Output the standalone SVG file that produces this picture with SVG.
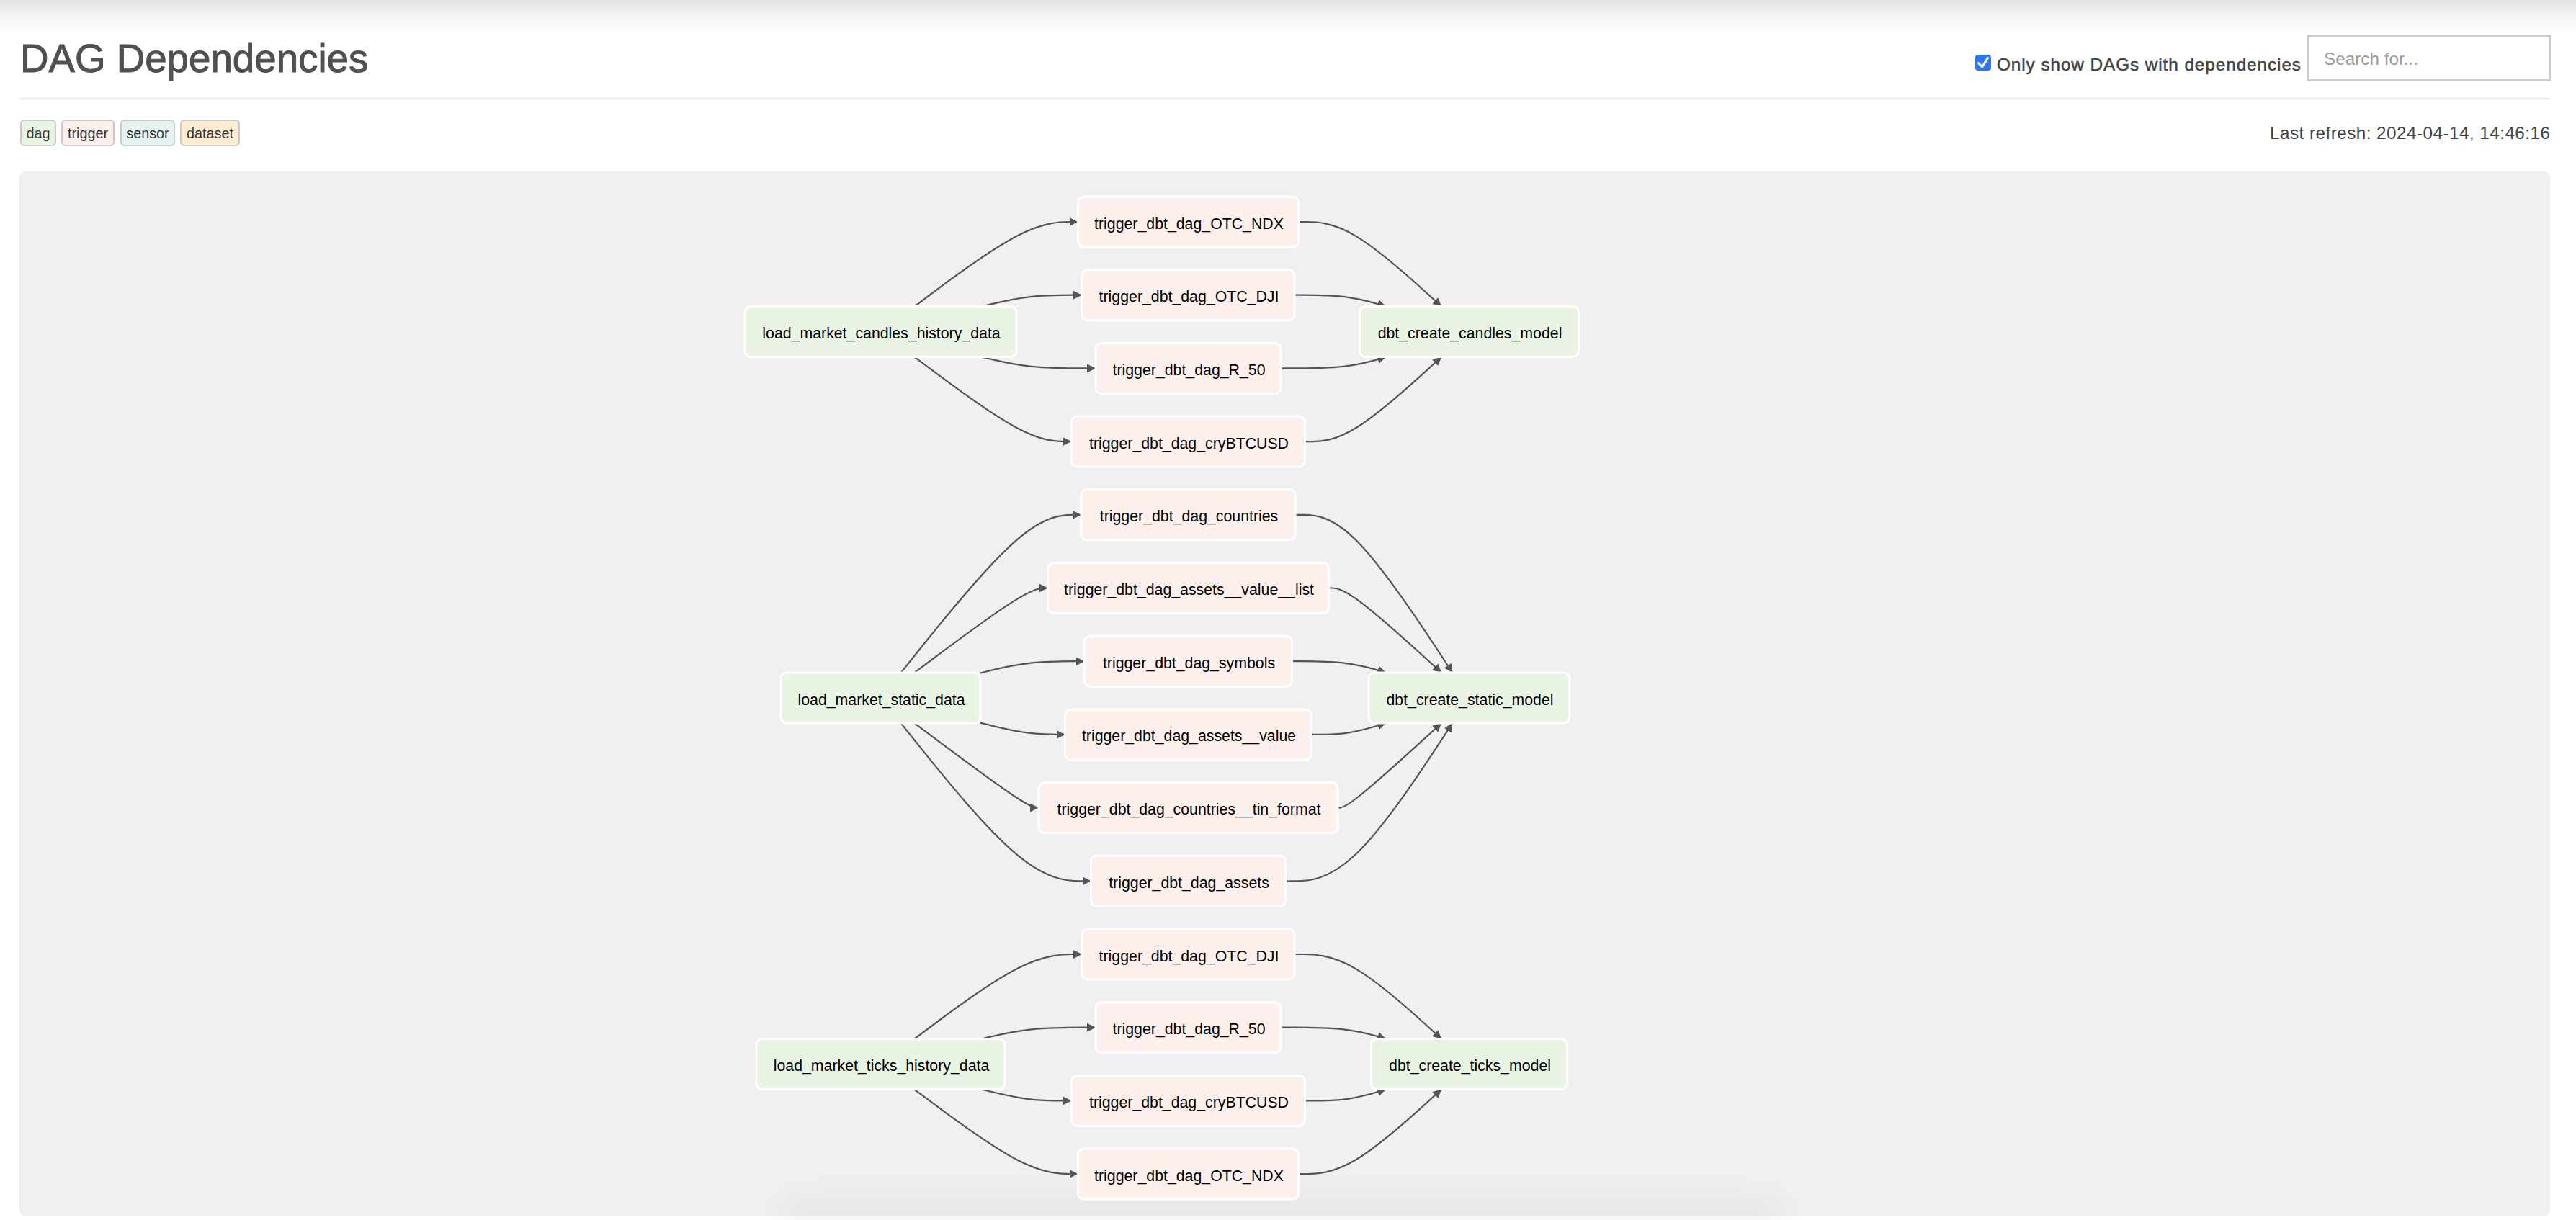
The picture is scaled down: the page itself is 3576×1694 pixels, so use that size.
<svg xmlns="http://www.w3.org/2000/svg" width="3576" height="1694" viewBox="0 0 3576 1694">
  <defs>
    <linearGradient id="topShade" x1="0" y1="0" x2="0" y2="1">
      <stop offset="0" stop-color="#e0e0e0"/>
      <stop offset="0.35" stop-color="#f1f1f1"/>
      <stop offset="1" stop-color="#ffffff"/>
    </linearGradient>
    <filter id="soft" x="-20%" y="-150%" width="140%" height="400%">
      <feGaussianBlur stdDeviation="22"/>
    </filter>
    <marker id="arrow" viewBox="0 0 12 12" markerUnits="userSpaceOnUse" markerWidth="12" markerHeight="12" refX="12" refY="6" orient="auto">
      <path d="M0,0 L12,6 L0,12 z" fill="#555"/>
    </marker>
    <style>
      .title { font-family: "Liberation Sans", Arial, sans-serif; font-size: 54.7px; fill: #51504f; stroke: #51504f; stroke-width: 1; }
      .ui { font-family: "Liberation Sans", Arial, sans-serif; font-size: 24.3px; fill: #444; }
      .legend rect { stroke: #c9c9c9; stroke-width: 2; }
      .legend text { font-family: "Liberation Sans", Arial, sans-serif; font-size: 19.8px; fill: #333; text-anchor: middle; }
      .node rect { stroke: #ffffff; stroke-width: 3; }
      .node.dag rect { fill: #eaf4e5; }
      .node.trigger rect { fill: #fcefec; }
      .node text { font-family: "Liberation Sans", Arial, sans-serif; font-size: 21.3px; fill: #000; text-anchor: middle; }
      .edge { fill: none; stroke: #555; stroke-width: 2.2; marker-end: url(#arrow); }
    </style>
  </defs>

  <!-- page background and header -->
  <rect x="0" y="0" width="3576" height="1694" fill="#ffffff"/>
  <rect x="0" y="0" width="3576" height="46" fill="url(#topShade)"/>
  <text class="title" x="28" y="100">DAG Dependencies</text>

  <rect x="2742" y="76" width="22" height="22" rx="4" fill="#2f74f5"/>
  <path d="M2746.5,87.5 L2751.5,93 L2759.5,80.5" fill="none" stroke="#fff" stroke-width="3" stroke-linecap="round" stroke-linejoin="round"/>
  <text class="ui" x="2772" y="98" textLength="422" lengthAdjust="spacing" style="stroke:#444;stroke-width:0.5">Only show DAGs with dependencies</text>

  <rect x="3204" y="50" width="336" height="61" fill="#fff" stroke="#cccccc" stroke-width="2"/>
  <text class="ui" x="3226" y="90" style="fill:#9a9a9a">Search for...</text>

  <rect x="28" y="135.5" width="3512" height="3" fill="#eeeeee"/>

  <!-- legend -->
  <g class="legend" id="legend">
    <rect x="29" y="167" width="48" height="35" rx="5" fill="#eaf4e5"/>
    <text x="53" y="191.5">dag</text>
    <rect x="86" y="167" width="72" height="35" rx="5" fill="#fcefec"/>
    <text x="122" y="191.5">trigger</text>
    <rect x="168" y="167" width="74" height="35" rx="5" fill="#e6f1f2"/>
    <text x="205" y="191.5">sensor</text>
    <rect x="251" y="167" width="81" height="35" rx="5" fill="#fcecd4"/>
    <text x="291.5" y="191.5">dataset</text>
  </g>

  <text class="ui" x="3540" y="193" text-anchor="end" textLength="389" lengthAdjust="spacing">Last refresh: 2024-04-14, 14:46:16</text>

  <!-- graph canvas -->
  <rect x="27" y="238" width="3513" height="1450" rx="8" fill="#f0f0f0"/>
  <rect x="1080" y="1660" width="1400" height="70" rx="30" fill="#000" opacity="0.035" filter="url(#soft)"/>

  <!-- connectors -->
  <g id="edges">
    <path class="edge" d="M1269.3,425.6 L1295.5,406.0 C1321.7,386.4 1374.1,347.2 1412.0,327.6 C1449.8,308 1473.2,308 1484.8,308 L1496.5,308"/>
    <path class="edge" d="M1362.9,425.6 L1373.5,422.9 C1384.1,420.3 1405.3,415.0 1428.5,412.3 C1451.7,409.7 1476.8,409.7 1489.4,409.7 L1502,409.7"/>
    <path class="edge" d="M1362.9,495.6 L1373.5,498.2 C1384.1,500.8 1405.3,506.1 1431.7,508.8 C1458,511.4 1489.5,511.4 1505.3,511.4 L1521,511.4"/>
    <path class="edge" d="M1269.3,495.6 L1295.5,515.1 C1321.7,534.7 1374.1,573.9 1410.5,593.5 C1446.8,613.1 1467.2,613.1 1477.3,613.1 L1487.5,613.1"/>
    <path class="edge" d="M1250.6,934.1 L1279.9,897.5 C1309.2,861.0 1367.9,787.9 1409.6,751.3 C1451.3,714.8 1476.2,714.8 1488.6,714.8 L1501,714.8"/>
    <path class="edge" d="M1269.3,934.1 L1295.5,914.5 C1321.7,894.9 1374.1,855.7 1405.0,836.1 C1435.8,816.5 1445.2,816.5 1449.8,816.5 L1454.5,816.5"/>
    <path class="edge" d="M1361,934.5 L1371.9,931.8 C1382.8,929.1 1404.7,923.6 1428.8,920.9 C1452.8,918.2 1479.2,918.2 1492.3,918.2 L1505.5,918.2"/>
    <path class="edge" d="M1361,1003.6 L1371.9,1006.3 C1382.8,1009.0 1404.7,1014.5 1424.3,1017.2 C1443.8,1019.9 1461.2,1019.9 1469.8,1019.9 L1478.5,1019.9"/>
    <path class="edge" d="M1269.3,1004.1 L1295.5,1023.6 C1321.7,1043.2 1374.1,1082.4 1402.9,1102.0 C1431.7,1121.6 1436.8,1121.6 1439.4,1121.6 L1442,1121.6"/>
    <path class="edge" d="M1250.6,1004.1 L1279.9,1040.6 C1309.2,1077.1 1367.9,1150.2 1411.9,1186.8 C1455.8,1223.3 1485.2,1223.3 1499.8,1223.3 L1514.5,1223.3"/>
    <path class="edge" d="M1269.3,1442.6 L1295.5,1423.0 C1321.7,1403.4 1374.1,1364.2 1412.9,1344.6 C1451.7,1325 1476.8,1325 1489.4,1325 L1502,1325"/>
    <path class="edge" d="M1362.9,1442.6 L1373.5,1439.9 C1384.1,1437.3 1405.3,1432.0 1431.7,1429.3 C1458,1426.7 1489.5,1426.7 1505.3,1426.7 L1521,1426.7"/>
    <path class="edge" d="M1362.9,1512.6 L1373.5,1515.2 C1384.1,1517.8 1405.3,1523.1 1426.1,1525.8 C1446.8,1528.4 1467.2,1528.4 1477.3,1528.4 L1487.5,1528.4"/>
    <path class="edge" d="M1269.3,1512.6 L1295.5,1532.1 C1321.7,1551.7 1374.1,1590.9 1412.0,1610.5 C1449.8,1630.1 1473.2,1630.1 1484.8,1630.1 L1496.5,1630.1"/>

    <path class="edge" d="M1802.5,308 L1814.1,308 C1825.7,308 1848.8,308 1881.9,327.6 C1915.0,347.2 1958.1,386.4 1979.6,406.0 L2001.1,425.55"/>
    <path class="edge" d="M1797,409.7 L1809.5,409.7 C1822,409.7 1847,409.7 1868.2,412.3 C1889.4,415.0 1906.8,420.3 1915.5,422.9 L1924.2,425.55"/>
    <path class="edge" d="M1778,511.4 L1793.7,511.4 C1809.3,511.4 1840.7,511.4 1865.0,508.8 C1889.4,506.1 1906.8,500.8 1915.5,498.2 L1924.2,495.55"/>
    <path class="edge" d="M1811.5,613.1 L1821.6,613.1 C1831.7,613.1 1851.8,613.1 1883.4,593.5 C1915.0,573.9 1958.1,534.7 1979.6,515.1 L2001.1,495.55"/>
    <path class="edge" d="M1798,714.8 L1810.3,714.8 C1822.7,714.8 1847.3,714.8 1883.7,751.3 C1920.1,787.9 1968.3,861.0 1992.3,897.5 L2016.4,934.05"/>
    <path class="edge" d="M1844.5,816.5 L1849.1,816.5 C1853.7,816.5 1862.8,816.5 1888.9,836.1 C1915.0,855.7 1958.1,894.9 1979.6,914.5 L2001.1,934.05"/>
    <path class="edge" d="M1793.5,918.2 L1806.6,918.2 C1819.7,918.2 1845.8,918.2 1867.6,920.8 C1889.4,923.5 1906.8,928.8 1915.5,931.4 L1924.2,934.05"/>
    <path class="edge" d="M1820.5,1019.9 L1829.1,1019.9 C1837.7,1019.9 1854.8,1019.9 1872.1,1017.3 C1889.4,1014.6 1906.8,1009.3 1915.5,1006.7 L1924.2,1004.05"/>
    <path class="edge" d="M1857,1121.6 L1859.5,1121.6 C1862,1121.6 1867,1121.6 1891.0,1102.0 C1915.0,1082.4 1958.1,1043.2 1979.6,1023.6 L2001.1,1004.05"/>
    <path class="edge" d="M1784.5,1223.3 L1799.1,1223.3 C1813.7,1223.3 1842.8,1223.3 1881.5,1186.8 C1920.1,1150.2 1968.3,1077.1 1992.3,1040.6 L2016.4,1004.05"/>
    <path class="edge" d="M1797,1325 L1809.5,1325 C1822,1325 1847,1325 1881.0,1344.6 C1915.0,1364.2 1958.1,1403.4 1979.6,1423.0 L2001.1,1442.55"/>
    <path class="edge" d="M1778,1426.7 L1793.7,1426.7 C1809.3,1426.7 1840.7,1426.7 1865.0,1429.3 C1889.4,1432.0 1906.8,1437.3 1915.5,1439.9 L1924.2,1442.55"/>
    <path class="edge" d="M1811.5,1528.4 L1821.6,1528.4 C1831.7,1528.4 1851.8,1528.4 1870.6,1525.8 C1889.4,1523.1 1906.8,1517.8 1915.5,1515.2 L1924.2,1512.55"/>
    <path class="edge" d="M1802.5,1630.1 L1814.1,1630.1 C1825.7,1630.1 1848.8,1630.1 1881.9,1610.5 C1915.0,1590.9 1958.1,1551.7 1979.6,1532.1 L2001.1,1512.55"/>
  </g>

  <!-- source DAGs -->
  <g id="dag-load_market_candles_history_data" class="node dag" transform="translate(1222.5,460.55)">
    <rect x="-188.5" y="-35" width="377" height="70" rx="8"/>
    <text x="1" y="9.5">load_market_candles_history_data</text>
  </g>
  <g id="dag-load_market_static_data" class="node dag" transform="translate(1222.5,969.05)">
    <rect x="-138.5" y="-35" width="277" height="70" rx="8"/>
    <text x="1" y="9.5">load_market_static_data</text>
  </g>
  <g id="dag-load_market_ticks_history_data" class="node dag" transform="translate(1222.5,1477.55)">
    <rect x="-172.5" y="-35" width="345" height="70" rx="8"/>
    <text x="1" y="9.5">load_market_ticks_history_data</text>
  </g>

  <!-- triggers -->
  <g id="trigger-candles-OTC_NDX" class="node trigger" transform="translate(1649.5,308)">
    <rect x="-153" y="-35" width="306" height="70" rx="8"/>
    <text x="1" y="9.5">trigger_dbt_dag_OTC_NDX</text>
  </g>
  <g id="trigger-candles-OTC_DJI" class="node trigger" transform="translate(1649.5,409.7)">
    <rect x="-147.5" y="-35" width="295" height="70" rx="8"/>
    <text x="1" y="9.5">trigger_dbt_dag_OTC_DJI</text>
  </g>
  <g id="trigger-candles-R_50" class="node trigger" transform="translate(1649.5,511.4)">
    <rect x="-128.5" y="-35" width="257" height="70" rx="8"/>
    <text x="1" y="9.5">trigger_dbt_dag_R_50</text>
  </g>
  <g id="trigger-candles-cryBTCUSD" class="node trigger" transform="translate(1649.5,613.1)">
    <rect x="-162" y="-35" width="324" height="70" rx="8"/>
    <text x="1" y="9.5">trigger_dbt_dag_cryBTCUSD</text>
  </g>
  <g id="trigger-static-countries" class="node trigger" transform="translate(1649.5,714.8)">
    <rect x="-148.5" y="-35" width="297" height="70" rx="8"/>
    <text x="1" y="9.5">trigger_dbt_dag_countries</text>
  </g>
  <g id="trigger-static-assets__value__list" class="node trigger" transform="translate(1649.5,816.5)">
    <rect x="-195" y="-35" width="390" height="70" rx="8"/>
    <text x="1" y="9.5">trigger_dbt_dag_assets__value__list</text>
  </g>
  <g id="trigger-static-symbols" class="node trigger" transform="translate(1649.5,918.2)">
    <rect x="-144" y="-35" width="288" height="70" rx="8"/>
    <text x="1" y="9.5">trigger_dbt_dag_symbols</text>
  </g>
  <g id="trigger-static-assets__value" class="node trigger" transform="translate(1649.5,1019.9)">
    <rect x="-171" y="-35" width="342" height="70" rx="8"/>
    <text x="1" y="9.5">trigger_dbt_dag_assets__value</text>
  </g>
  <g id="trigger-static-countries__tin_format" class="node trigger" transform="translate(1649.5,1121.6)">
    <rect x="-207.5" y="-35" width="415" height="70" rx="8"/>
    <text x="1" y="9.5">trigger_dbt_dag_countries__tin_format</text>
  </g>
  <g id="trigger-static-assets" class="node trigger" transform="translate(1649.5,1223.3)">
    <rect x="-135" y="-35" width="270" height="70" rx="8"/>
    <text x="1" y="9.5">trigger_dbt_dag_assets</text>
  </g>
  <g id="trigger-ticks-OTC_DJI" class="node trigger" transform="translate(1649.5,1325)">
    <rect x="-147.5" y="-35" width="295" height="70" rx="8"/>
    <text x="1" y="9.5">trigger_dbt_dag_OTC_DJI</text>
  </g>
  <g id="trigger-ticks-R_50" class="node trigger" transform="translate(1649.5,1426.7)">
    <rect x="-128.5" y="-35" width="257" height="70" rx="8"/>
    <text x="1" y="9.5">trigger_dbt_dag_R_50</text>
  </g>
  <g id="trigger-ticks-cryBTCUSD" class="node trigger" transform="translate(1649.5,1528.4)">
    <rect x="-162" y="-35" width="324" height="70" rx="8"/>
    <text x="1" y="9.5">trigger_dbt_dag_cryBTCUSD</text>
  </g>
  <g id="trigger-ticks-OTC_NDX" class="node trigger" transform="translate(1649.5,1630.1)">
    <rect x="-153" y="-35" width="306" height="70" rx="8"/>
    <text x="1" y="9.5">trigger_dbt_dag_OTC_NDX</text>
  </g>

  <!-- model DAGs -->
  <g id="dag-dbt_create_candles_model" class="node dag" transform="translate(2039.5,460.55)">
    <rect x="-152" y="-35" width="304" height="70" rx="8"/>
    <text x="1" y="9.5">dbt_create_candles_model</text>
  </g>
  <g id="dag-dbt_create_static_model" class="node dag" transform="translate(2039.5,969.05)">
    <rect x="-139.5" y="-35" width="279" height="70" rx="8"/>
    <text x="1" y="9.5">dbt_create_static_model</text>
  </g>
  <g id="dag-dbt_create_ticks_model" class="node dag" transform="translate(2039.5,1477.55)">
    <rect x="-136" y="-35" width="272" height="70" rx="8"/>
    <text x="1" y="9.5">dbt_create_ticks_model</text>
  </g>
</svg>
